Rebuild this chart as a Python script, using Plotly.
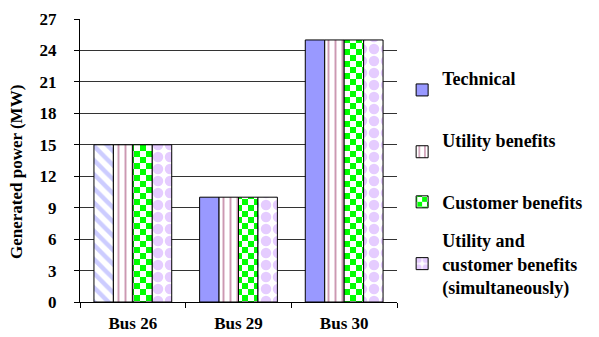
import plotly.graph_objects as go

# Generated power per bus for each optimisation objective
buses = ["Bus 26", "Bus 29", "Bus 30"]
technical = [15, 10, 25]
utility = [15, 10, 25]
customer = [15, 10, 25]
utility_customer = [15, 10, 25]
y_ticks = [0, 3, 6, 9, 12, 15, 18, 21, 24, 27]

# Legend labels; a trailing blank line lifts the text above its swatch
names = [
    "Technical<br> ",
    "Utility benefits<br> ",
    "Customer benefits",
    "Utility and<br>customer benefits<br>(simultaneously)",
]

FONT = "Liberation Serif"
OUTLINE = dict(color="black", width=1)

fig = go.Figure()

# Technical: solid fill on buses 29/30, diagonal hatch on bus 26 (same slot)
fig.add_trace(go.Bar(
    name=names[0], x=buses[1:], y=technical[1:],
    offsetgroup="t", legendgroup="t",
    marker=dict(color="#9999ff", line=OUTLINE),
))
fig.add_trace(go.Bar(
    name=names[0], x=buses[:1], y=technical[:1],
    offsetgroup="t", legendgroup="t", showlegend=False,
    marker=dict(color="#9999ff", line=OUTLINE,
                pattern=dict(shape="\\", fgcolor="#9999ff", bgcolor="white",
                             size=10, solidity=0.45)),
))
fig.add_trace(go.Bar(
    name=names[1], x=buses, y=utility,
    offsetgroup="u", legendgroup="u",
    marker=dict(color="#993366", line=OUTLINE,
                pattern=dict(shape="|", fgcolor="#993366", bgcolor="white",
                             size=7, solidity=0.28)),
))
fig.add_trace(go.Bar(
    name=names[2], x=buses, y=customer,
    offsetgroup="c", legendgroup="c",
    marker=dict(color="#00ff00", line=OUTLINE,
                pattern=dict(shape="x", fgcolor="#00ff00", bgcolor="white",
                             size=12, solidity=0.5)),
))
fig.add_trace(go.Bar(
    name=names[3], x=buses, y=utility_customer,
    offsetgroup="uc", legendgroup="uc",
    marker=dict(color="#cc99ff", line=OUTLINE,
                pattern=dict(shape=".", fgcolor="#cc99ff", bgcolor="white",
                             size=12, solidity=0.6)),
))

fig.update_layout(
    width=599, height=337,
    margin=dict(l=80, r=201, t=19, b=35),
    paper_bgcolor="white", plot_bgcolor="white",
    barmode="group", bargap=0.264, bargroupgap=0,
    font=dict(family=FONT, color="black", size=17, weight="bold"),
    legend=dict(
        x=1.013, xanchor="left", y=0.855, yanchor="top",
        font=dict(family=FONT, size=18, weight="bold"),
        tracegroupgap=12, itemwidth=30, bgcolor="rgba(0,0,0,0)",
        maxheight=330,
    ),
    xaxis=dict(
        categoryorder="array", categoryarray=buses,
        showline=True, linecolor="black", linewidth=1,
        ticks="outside", tickson="boundaries", ticklen=5, tickcolor="black",
        showgrid=False, automargin=False, ticklabelstandoff=6,
        tickfont=dict(family=FONT, size=17, weight="bold"),
    ),
    yaxis=dict(
        range=[0, 27], tickvals=y_ticks,
        showline=True, linecolor="black", linewidth=1,
        ticks="outside", ticklen=5, tickcolor="black",
        showgrid=True, gridcolor="#333333", gridwidth=1, zeroline=False,
        automargin=False, ticklabelstandoff=14,
        tickfont=dict(family=FONT, size=17, weight="bold"),
    ),
    annotations=[dict(
        text="Generated power (MW)", textangle=-90,
        xref="paper", yref="paper", x=-0.198, y=0.46,
        xanchor="center", yanchor="middle", showarrow=False,
        font=dict(family=FONT, size=17, weight="bold"),
    )],
)

# Checkerboard fill for the customer-benefits bars and legend swatch
checker_js = """
(function(){
  var NS = 'http://www.w3.org/2000/svg';
  document.querySelectorAll('pattern').forEach(function(p){
    var h = p.innerHTML.replace(/\\s/g, '').toLowerCase();
    if (h.indexOf('rgb(0,255,0)') < 0 && h.indexOf('#00ff00') < 0) return;
    var s = 6;
    p.setAttribute('width', 2 * s);
    p.setAttribute('height', 2 * s);
    while (p.firstChild) p.removeChild(p.firstChild);
    [[0, 0, '#ffffff'], [s, 0, '#00ff00'], [0, s, '#00ff00'], [s, s, '#ffffff']]
      .forEach(function(c){
        var r = document.createElementNS(NS, 'rect');
        r.setAttribute('x', c[0]);
        r.setAttribute('y', c[1]);
        r.setAttribute('width', s);
        r.setAttribute('height', s);
        r.setAttribute('fill', c[2]);
        p.appendChild(r);
      });
  });
})();
"""

fig.write_html("out.html", post_script=checker_js)
